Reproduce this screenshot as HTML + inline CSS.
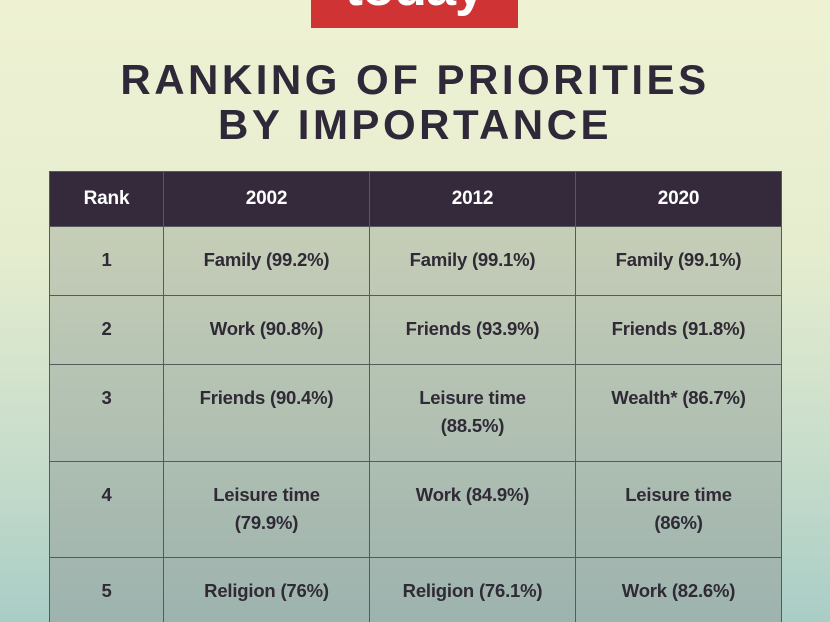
<!DOCTYPE html>
<html><head><meta charset="utf-8"><style>
html,body{margin:0;padding:0;width:830px;height:622px;overflow:hidden}
body{position:relative;background:linear-gradient(#eef2d3 0%,#e6edcf 40%,#c6dccb 75%,#a9cdc6 100%);font-family:"Liberation Sans",sans-serif}
.logo{position:absolute;left:311px;top:0;width:207px;height:28px;background:#cf3333;overflow:hidden}
.logo span{position:absolute;left:0;right:0;text-align:center;top:-44px;color:#fff;font-weight:bold;font-size:54px;letter-spacing:-1px}
.t{position:absolute;left:0;width:830px;text-align:center;color:#2f2838;font-weight:bold;font-size:42px;letter-spacing:3.5px;line-height:46px}
table{position:absolute;left:49px;top:171px;border-collapse:collapse;table-layout:fixed;width:732px;background:linear-gradient(#cbd1b8,#9db3ae 450px)}
td,th{border:1.5px solid #555a5e;text-align:center;vertical-align:top;color:#2f2a35;font-size:18.5px;font-weight:bold;line-height:28px;padding:0;letter-spacing:-0.2px}
th{background:#342a3c;color:#fff;height:54px;vertical-align:middle;font-size:19px}
td{padding-top:19px;box-sizing:border-box}
</style></head><body>
<div class="logo"><span>today</span></div>
<div class="t" style="top:57px">RANKING OF PRIORITIES</div>
<div class="t" style="top:102px">BY IMPORTANCE</div>
<table>
<colgroup><col style="width:114px"><col style="width:206px"><col style="width:206px"><col style="width:206px"></colgroup>
<tr><th>Rank</th><th>2002</th><th>2012</th><th>2020</th></tr>
<tr style="height:69px"><td>1</td><td>Family (99.2%)</td><td>Family (99.1%)</td><td>Family (99.1%)</td></tr>
<tr style="height:69px"><td>2</td><td>Work (90.8%)</td><td>Friends (93.9%)</td><td>Friends (91.8%)</td></tr>
<tr style="height:97px"><td>3</td><td>Friends (90.4%)</td><td>Leisure time<br>(88.5%)</td><td>Wealth* (86.7%)</td></tr>
<tr style="height:96px"><td>4</td><td>Leisure time<br>(79.9%)</td><td>Work (84.9%)</td><td>Leisure time<br>(86%)</td></tr>
<tr style="height:66px"><td>5</td><td>Religion (76%)</td><td>Religion (76.1%)</td><td>Work (82.6%)</td></tr>
</table>
</body></html>
